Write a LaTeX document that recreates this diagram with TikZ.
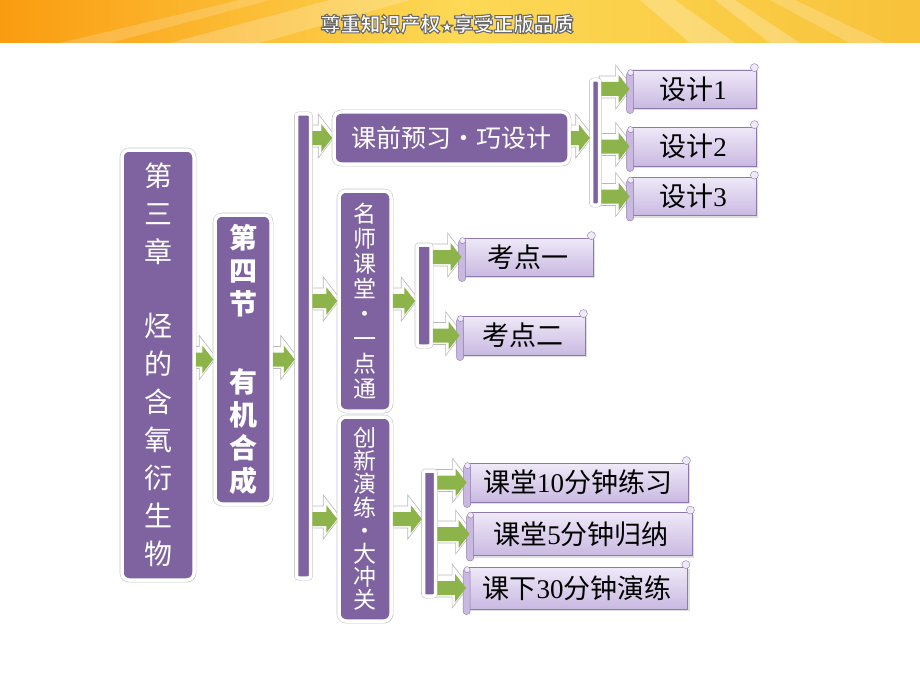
\documentclass[tikz,border=0pt]{standalone}
\usepackage{fontspec}
\setmainfont{Liberation Serif}
\newfontfamily\cjk{Noto Sans CJK SC}
\usetikzlibrary{calc,shadows}

\definecolor{boxpurple}{HTML}{7F63A1}
\definecolor{linkgreen}{HTML}{8DB44A}
\definecolor{scrolltop}{HTML}{EFE9F8}
\definecolor{scrollbot}{HTML}{C9B9E1}
\definecolor{scrollline}{HTML}{8E7AAE}
\definecolor{bannerorange}{HTML}{FA9C10}
\definecolor{banneryellow}{HTML}{FDD955}
\definecolor{bannerright}{HTML}{F8C23A}

\pgfdeclarelayer{back}
\pgfdeclarelayer{links}
\pgfsetlayers{back,links,main}

% block arrow between two points on one height
\newcommand{\linkarrow}[2]{%
  \path (#1) coordinate (la) (#2) coordinate (lb);
  \begin{pgfonlayer}{links}
  \draw[linkback] ($(la)+(-2,-13)$) -- ($(lb)+(-14,-13)$) -- ($(lb)+(-14,-24)$) -- ($(lb)+(3,-2)$)
    -- ($(lb)+(-14,20)$) -- ($(lb)+(-14,9)$) -- ($(la)+(-2,9)$) -- cycle;
  \end{pgfonlayer}
  \fill[linkgreen] ($(la)+(0,-7)$) -- ($(lb)+(-11,-7)$) -- ($(lb)+(-11,-14)$) -- (lb)
    -- ($(lb)+(-11,14)$) -- ($(lb)+(-11,7)$) -- ($(la)+(0,7)$) -- cycle;}

% rolled edges of a scroll
\newcommand{\scrollcurls}[1]{%
  \draw[scrollline, fill=scrollbot, rounded corners=3pt] ([shift={(-3,2)}]#1.north west) rectangle ([shift={(4,5)}]#1.south west);
  \draw[scrollline, fill=scrolltop] ([shift={(1,3)}]#1.north west) circle (3pt);
  \draw[scrollline, fill=scrolltop] ([shift={(-2,-2)}]#1.north east) circle (4pt);}

% outlined banner letters
\newcommand{\outlined}[1]{\special{pdf:literal q 2 Tr 1.1 w 0.42 0.42 0.42 RG}#1\special{pdf:literal Q}}

\begin{document}
\begin{tikzpicture}
[x=1pt, y=-1pt,
mainbox/.style={fill=boxpurple, draw=white, line width=3.5pt, preaction={draw=gray!45, line width=4.6pt},
  rounded corners=7pt, text=white, align=center, inner sep=0pt,
  drop shadow={opacity=0.25, shadow xshift=1.5pt, shadow yshift=-1.5pt}},
bar/.style={fill=boxpurple, draw=white, line width=3.5pt, preaction={draw=gray!45, line width=4.6pt},
  rounded corners=2pt, inner sep=0pt},
scroll/.style={draw=scrollline, line width=0.8pt, top color=scrolltop, bottom color=scrollbot,
  font=\cjk\fontsize{27}{30}\selectfont, inner sep=0pt,
  drop shadow={opacity=0.25, shadow xshift=2pt, shadow yshift=-2pt}},
linkback/.style={fill=white, draw=gray!55, line width=0.6pt},
bannertext/.style={font=\cjk\bfseries\fontsize{20}{20}\selectfont, text=white}]
\useasboundingbox (0,0) rectangle (920,690);
\begin{pgfonlayer}{back}
\fill[white] (0,0) rectangle (920,690);
\fill[left color=bannerorange, right color=bannerright, middle color=banneryellow] (0,0) rectangle (920,43);
\fill[white, opacity=0.22] (170,43) -- (330,0) -- (410,0) -- (260,43) -- cycle;
\fill[white, opacity=0.18] (60,43) -- (240,0) -- (270,0) -- (110,43) -- cycle;
\fill[white, opacity=0.25] (690,43) -- (640,0) -- (675,0) -- (735,43) -- cycle;
\fill[white, opacity=0.25] (770,43) -- (715,0) -- (735,0) -- (800,43) -- cycle;
\fill[white, opacity=0.2] (850,43) -- (770,0) -- (795,0) -- (885,43) -- cycle;
\end{pgfonlayer}
\node[bannertext] (banner) at (447,24) {\outlined{尊重知识产权{\fontsize{13}{13}\selectfont ★}享受正版品质}};

\node[mainbox, minimum width=72, minimum height=430, font=\cjk\fontsize{28}{38}\selectfont] (chapter) at (158,365)
  {第\\三\\章\\[36pt]烃\\的\\含\\氧\\衍\\生\\物};
\node[mainbox, minimum width=56, minimum height=289, font=\cjk\bfseries\fontsize{28}{33}\selectfont] (section) at (243,359.5)
  {第\\四\\节\\[45pt]有\\机\\合\\成};
\node[bar, minimum width=14, minimum height=464] (bar1) at (303.5,346) {};
\node[mainbox, minimum width=235, minimum height=52, font=\cjk\fontsize{25}{28}\selectfont] (pre) at (451.5,138) {课前预习・巧设计};
\node[mainbox, minimum width=52, minimum height=220, font=\cjk\fontsize{23}{25}\selectfont] (ming) at (365,301)
  {名\\师\\课\\堂\\・\\一\\点\\通};
\node[mainbox, minimum width=52, minimum height=204, font=\cjk\fontsize{23}{23.2}\selectfont] (chuang) at (365,519)
  {创\\新\\演\\练\\・\\大\\冲\\关};
\node[bar, minimum width=8, minimum height=125] (bar2) at (595.5,142.5) {};
\node[bar, minimum width=14, minimum height=101] (bar3) at (424,295.5) {};
\node[bar, minimum width=12, minimum height=125] (bar4) at (429.5,533.5) {};

\node[scroll, minimum width=126, minimum height=38] (design1) at (693,89) {设计{\rmfamily 1}};
\node[scroll, minimum width=126, minimum height=39] (design2) at (693,146.5) {设计{\rmfamily 2}};
\node[scroll, minimum width=126, minimum height=38] (design3) at (693,196.5) {设计{\rmfamily 3}};
\node[scroll, minimum width=131, minimum height=38] (point1) at (527.5,257) {考点一};
\node[scroll, minimum width=125, minimum height=39] (point2) at (522.5,335.5) {考点二};
\node[scroll, minimum width=221, minimum height=39] (drill1) at (577.5,482.5) {课堂{\rmfamily 10}分钟练习};
\node[scroll, minimum width=222, minimum height=43] (drill2) at (581,534) {课堂{\rmfamily 5}分钟归纳};
\node[scroll, minimum width=221, minimum height=42] (drill3) at (577,588) {课下{\rmfamily 30}分钟演练};
\foreach \n in {design1,design2,design3,point1,point2,drill1,drill2,drill3}
  {\scrollcurls{\n}}

\linkarrow{chapter.east |- section.west}{section.west}
\linkarrow{section.east}{bar1.west |- section.east}
\foreach \n in {pre,ming,chuang}
  {\linkarrow{bar1.east |- \n.west}{\n.west}}
\linkarrow{pre.east}{bar2.west |- pre.east}
\foreach \n in {design1,design2,design3}
  {\linkarrow{bar2.east |- \n.west}{\n.west}}
\linkarrow{ming.east}{bar3.west |- ming.east}
\foreach \n in {point1,point2}
  {\linkarrow{bar3.east |- \n.west}{\n.west}}
\linkarrow{chuang.east}{bar4.west |- chuang.east}
\foreach \n in {drill1,drill2,drill3}
  {\linkarrow{bar4.east |- \n.west}{\n.west}}
\end{tikzpicture}
\end{document}
